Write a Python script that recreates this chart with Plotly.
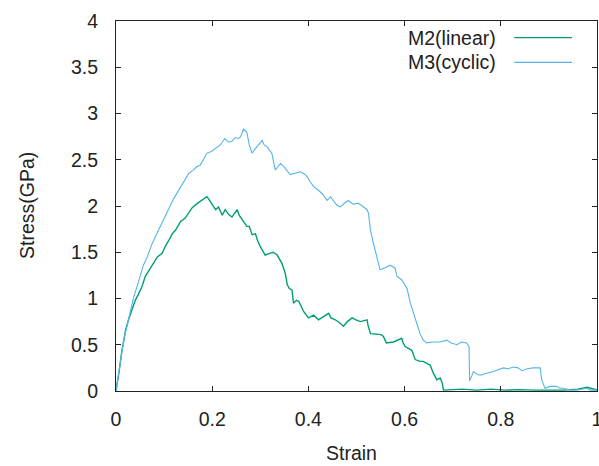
import plotly.graph_objects as go

# M2 (linear) strain / stress
m2_strain = [0.0, 0.003, 0.007, 0.011, 0.016, 0.020, 0.026, 0.034, 0.040, 0.047,
             0.054, 0.061, 0.067, 0.075, 0.086, 0.096, 0.103, 0.110, 0.117, 0.124,
             0.134, 0.144, 0.151, 0.158, 0.167, 0.175, 0.182, 0.189, 0.192, 0.196,
             0.202, 0.207, 0.213, 0.221, 0.227, 0.234, 0.241, 0.252, 0.256, 0.262,
             0.272, 0.277, 0.283, 0.290, 0.294, 0.300, 0.310, 0.321, 0.327, 0.335,
             0.345, 0.352, 0.356, 0.360, 0.366, 0.369, 0.375, 0.380, 0.390, 0.400,
             0.411, 0.421, 0.431, 0.442, 0.447, 0.456, 0.464, 0.473, 0.481, 0.491,
             0.499, 0.508, 0.522, 0.524, 0.529, 0.542, 0.551, 0.556, 0.562, 0.577,
             0.594, 0.597, 0.601, 0.615, 0.622, 0.632, 0.639, 0.649, 0.653, 0.660,
             0.667, 0.674, 0.678, 0.681, 0.695, 0.72, 0.75, 0.78, 0.81, 0.84,
             0.87, 0.90, 0.93, 0.96, 0.98, 1.0]
m2_stress = [0.0, 0.09, 0.23, 0.39, 0.53, 0.66, 0.77, 0.88, 0.98, 1.05,
             1.13, 1.24, 1.29, 1.36, 1.45, 1.49, 1.57, 1.63, 1.70, 1.74,
             1.83, 1.87, 1.92, 1.98, 2.02, 2.05, 2.08, 2.10, 2.08, 2.05,
             2.00, 1.96, 1.99, 1.90, 1.96, 1.91, 1.88, 1.96, 1.90, 1.85,
             1.78, 1.78, 1.69, 1.70, 1.63, 1.56, 1.47, 1.49, 1.50, 1.47,
             1.38, 1.27, 1.15, 1.11, 1.09, 0.95, 0.98, 0.97, 0.86, 0.79,
             0.82, 0.77, 0.80, 0.84, 0.79, 0.77, 0.74, 0.70, 0.75, 0.79,
             0.77, 0.75, 0.77, 0.71, 0.62, 0.61, 0.61, 0.59, 0.52, 0.53,
             0.57, 0.52, 0.48, 0.44, 0.34, 0.32, 0.32, 0.29, 0.28, 0.19,
             0.12, 0.14, 0.09, 0.01, 0.015, 0.02, 0.01, 0.02, 0.01, 0.015,
             0.01, 0.01, 0.01, 0.02, 0.04, 0.01]

# M3 (cyclic) strain / stress
m3_strain = [0.0, 0.0025, 0.005, 0.009, 0.016, 0.020, 0.027, 0.032, 0.037, 0.045,
             0.051, 0.057, 0.065, 0.074, 0.082, 0.090, 0.099, 0.109, 0.120, 0.128,
             0.137, 0.144, 0.151, 0.161, 0.169, 0.175, 0.184, 0.189, 0.198, 0.210,
             0.217, 0.226, 0.234, 0.241, 0.248, 0.255, 0.259, 0.265, 0.272, 0.277,
             0.283, 0.288, 0.293, 0.304, 0.308, 0.314, 0.324, 0.328, 0.331, 0.342,
             0.350, 0.362, 0.373, 0.383, 0.391, 0.397, 0.404, 0.411, 0.421, 0.429,
             0.439, 0.446, 0.459, 0.466, 0.475, 0.483, 0.493, 0.504, 0.512, 0.522,
             0.525, 0.529, 0.535, 0.542, 0.549, 0.558, 0.570, 0.580, 0.584, 0.594,
             0.605, 0.612, 0.618, 0.626, 0.632, 0.639, 0.646, 0.657, 0.674, 0.688,
             0.697, 0.709, 0.718, 0.729, 0.734, 0.735, 0.738, 0.743, 0.751, 0.757,
             0.769, 0.785, 0.794, 0.805, 0.815, 0.826, 0.836, 0.844, 0.855, 0.867,
             0.882, 0.885, 0.892, 0.902, 0.916, 0.923, 0.930, 0.944, 0.958, 0.969,
             0.979, 0.986, 1.0]
m3_stress = [0.0, 0.09, 0.20, 0.34, 0.55, 0.64, 0.80, 0.92, 1.02, 1.15,
             1.27, 1.36, 1.45, 1.58, 1.67, 1.76, 1.85, 1.97, 2.08, 2.15,
             2.23, 2.28, 2.35, 2.39, 2.43, 2.44, 2.53, 2.57, 2.59, 2.64,
             2.66, 2.73, 2.69, 2.70, 2.74, 2.73, 2.75, 2.83, 2.80, 2.66,
             2.57, 2.61, 2.64, 2.71, 2.66, 2.64, 2.57, 2.45, 2.39, 2.46,
             2.42, 2.34, 2.36, 2.37, 2.35, 2.32, 2.26, 2.21, 2.17, 2.13,
             2.06, 2.10, 2.01, 1.99, 2.03, 2.06, 2.02, 2.03, 2.00, 1.96,
             1.92, 1.74, 1.60, 1.45, 1.31, 1.33, 1.36, 1.33, 1.24, 1.20,
             1.11, 0.95, 0.84, 0.72, 0.62, 0.55, 0.52, 0.53, 0.53, 0.55,
             0.52, 0.50, 0.53, 0.52, 0.48, 0.11, 0.14, 0.21, 0.18, 0.17,
             0.19, 0.21, 0.23, 0.25, 0.24, 0.26, 0.25, 0.22, 0.24, 0.25,
             0.25, 0.12, 0.03, 0.05, 0.05, 0.03, 0.03, 0.01, 0.01, 0.02,
             0.03, 0.01, 0.01]

x_ticks = [0, 0.2, 0.4, 0.6, 0.8, 1]
x_tick_text = ["0", "0.2", "0.4", "0.6", "0.8", "1"]
y_ticks = [0, 0.5, 1, 1.5, 2, 2.5, 3, 3.5, 4]
y_tick_text = ["0", "0.5", "1", "1.5", "2", "2.5", "3", "3.5", "4"]

GREEN = "#009e73"
BLUE = "#56b4e9"
FONT = "Liberation Sans, Arial, sans-serif"
TXT = "#222222"
FS = 19.5

fig = go.Figure()
fig.add_trace(go.Scatter(x=m2_strain, y=m2_stress, mode="lines",
                         line=dict(color=GREEN, width=1.4), name="M2(linear)",
                         showlegend=False))
fig.add_trace(go.Scatter(x=m3_strain, y=m3_stress, mode="lines",
                         line=dict(color=BLUE, width=1.1), name="M3(cyclic)",
                         showlegend=False))

axis_common = dict(showgrid=False, zeroline=False, showline=True, linecolor="#222",
                   linewidth=1, ticks="inside", ticklen=5, tickcolor="#222",
                   mirror="ticks", ticklabeloverflow="allow", automargin=False,
                   tickfont=dict(family=FONT, size=FS, color=TXT))

fig.update_layout(
    width=599, height=466,
    margin=dict(l=116, r=2, t=21, b=75, autoexpand=False),
    paper_bgcolor="white", plot_bgcolor="white",
    font=dict(family=FONT, color=TXT),
    xaxis=dict(range=[0, 1], tickvals=x_ticks, ticktext=x_tick_text,
               ticklabelstandoff=11, **axis_common),
    yaxis=dict(range=[0, 4], tickvals=y_ticks, ticktext=y_tick_text,
               ticklabelstandoff=13, **axis_common),
)

# axis titles
fig.add_annotation(text="Strain", xref="paper", yref="paper", x=0.49, y=-0.167,
                   showarrow=False, font=dict(family=FONT, size=FS, color=TXT),
                   xanchor="center", yanchor="middle")
fig.add_annotation(text="Stress(GPa)", xref="paper", yref="paper", x=-0.185, y=0.5,
                   textangle=-90, showarrow=False,
                   font=dict(family=FONT, size=FS, color=TXT),
                   xanchor="center", yanchor="middle")

# legend (gnuplot style: text then line sample)
legend_items = [("M2(linear)", GREEN, 0.955), ("M3(cyclic)", BLUE, 0.888)]
for label, col, yy in legend_items:
    fig.add_annotation(text=label, xref="paper", yref="paper", x=0.795, y=yy,
                       showarrow=False, xanchor="right", yanchor="middle",
                       font=dict(family=FONT, size=FS, color=TXT))
    fig.add_shape(type="line", xref="paper", yref="paper", x0=0.828, x1=0.948,
                  y0=yy, y1=yy, line=dict(color=col, width=1.2))

fig.write_html("out.html")
